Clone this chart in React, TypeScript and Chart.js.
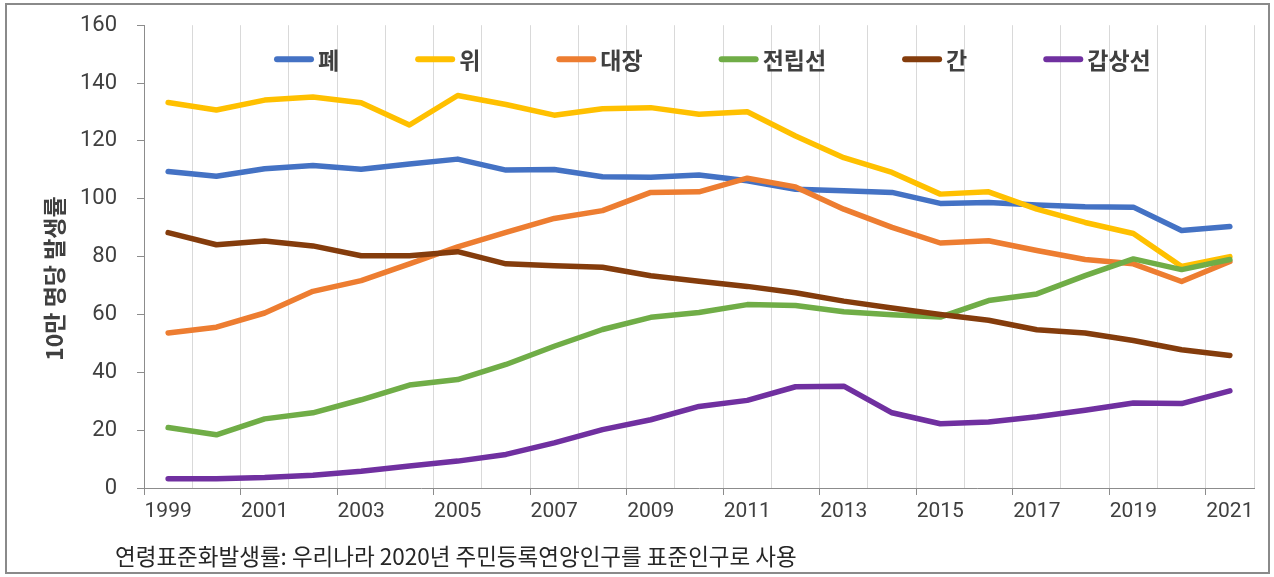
import React, { useEffect, useRef } from 'react';
import { Chart, registerables } from 'chart.js';

Chart.register(...registerables);

const years = ['1999', '2000', '2001', '2002', '2003', '2004', '2005', '2006', '2007', '2008', '2009', '2010', '2011', '2012', '2013', '2014', '2015', '2016', '2017', '2018', '2019', '2020', '2021'];

const lung = [109.4, 107.8, 110.4, 111.5, 110.2, 112.0, 113.7, 109.9, 110.1, 107.6, 107.4, 108.2, 106.2, 103.3, 102.8, 102.2, 98.4, 98.7, 97.8, 97.2, 97.1, 89.0, 90.4];
const stomach = [133.3, 130.7, 134.1, 135.2, 133.2, 125.5, 135.7, 132.6, 128.9, 131.1, 131.5, 129.2, 130.1, 121.7, 114.2, 109.1, 101.6, 102.4, 96.4, 91.8, 88.0, 76.6, 80.0];
const colorectal = [53.6, 55.6, 60.5, 68.0, 71.7, 77.5, 83.4, 88.4, 93.2, 95.9, 102.2, 102.4, 107.1, 104.1, 96.4, 90.1, 84.7, 85.5, 82.1, 79.0, 77.5, 71.4, 78.3];
const prostate = [20.9, 18.4, 23.9, 26.0, 30.5, 35.6, 37.5, 42.7, 49.0, 54.8, 59.0, 60.7, 63.4, 63.1, 60.9, 59.9, 59.1, 64.8, 67.1, 73.4, 79.2, 75.5, 79.0];
const liver = [88.3, 84.1, 85.4, 83.7, 80.3, 80.3, 81.7, 77.5, 76.8, 76.3, 73.4, 71.5, 69.7, 67.5, 64.6, 62.2, 60.0, 58.0, 54.7, 53.6, 51.0, 47.8, 45.8];
const thyroid = [3.2, 3.2, 3.6, 4.4, 5.8, 7.6, 9.3, 11.6, 15.6, 20.2, 23.6, 28.2, 30.3, 35.0, 35.2, 26.0, 22.2, 22.8, 24.6, 26.9, 29.4, 29.2, 33.6];

const seriesNames = ['폐', '위', '대장', '전립선', '간', '갑상선'];
const seriesValues = [lung, stomach, colorectal, prostate, liver, thyroid];
const seriesColors = ['#4472C4', '#FFC000', '#ED7D31', '#70AD47', '#843C0C', '#7030A0'];

const yTitle = '10만 명당 발생률';
const footnote = '연령표준화발생률: 우리나라 2020년 주민등록연앙인구를 표준인구로 사용';

const KFONT = '"Noto Sans CJK KR", "Noto Sans", sans-serif';
const NFONT = 'Roboto, "Noto Sans", sans-serif';

const CANVAS_SHIFT = 8;

export default function App() {
  const canvasRef = useRef<HTMLCanvasElement>(null);

  useEffect(() => {
    if (!canvasRef.current) return;

    const overlayPlugin = {
      id: 'overlayLegendTitle',
      afterDatasetsDraw(chart: any) {
        const ctx = chart.ctx as CanvasRenderingContext2D;
        const area = chart.chartArea;
        ctx.save();
        ctx.font = `bold 23px ${KFONT}`;
        ctx.textBaseline = 'middle';
        ctx.textAlign = 'left';
        let x = area.left + 130;
        const y = area.top + 34;
        chart.data.datasets.forEach((ds: any) => {
          ctx.strokeStyle = ds.borderColor;
          ctx.lineWidth = 6;
          ctx.lineCap = 'round';
          ctx.beginPath();
          ctx.moveTo(x + 3, y);
          ctx.lineTo(x + 37, y);
          ctx.stroke();
          ctx.fillStyle = '#404040';
          ctx.fillText(ds.label, x + 44, y + 1);
          x += 44 + ctx.measureText(ds.label).width + 76;
        });
        ctx.translate(54, (area.top + area.bottom) / 2 + 22);
        ctx.rotate(-Math.PI / 2);
        ctx.font = `bold 23px ${KFONT}`;
        ctx.textAlign = 'center';
        ctx.fillStyle = '#404040';
        ctx.fillText(yTitle, 0, 0);
        ctx.restore();
      },
    };

    const chart = new Chart(canvasRef.current, {
      type: 'line',
      data: {
        labels: years,
        datasets: seriesNames.map((name, i) => ({
          label: name,
          data: seriesValues[i],
          borderColor: seriesColors[i],
          backgroundColor: seriesColors[i],
          borderWidth: 5.5,
          pointRadius: 0,
          pointHoverRadius: 0,
          tension: 0,
          borderCapStyle: 'round' as const,
          borderJoinStyle: 'round' as const,
          order: seriesNames.length - i,
        })),
      },
      options: {
        responsive: false,
        animation: false,
        devicePixelRatio: 1,
        layout: { padding: { top: 16, right: 20, left: 0, bottom: 0 } },
        plugins: {
          legend: { display: false },
          tooltip: { enabled: false },
        },
        scales: {
          x: {
            type: 'category',
            offset: true,
            grid: {
              offset: true,
              color: '#d9d9d9',
              lineWidth: 1,
              tickLength: 7,
              tickColor: (ctx: any) => (ctx.index % 2 === 0 ? '#8c8c8c' : 'rgba(0,0,0,0)'),
            },
            border: { color: '#8c8c8c', width: 1 },
            ticks: {
              autoSkip: false,
              maxRotation: 0,
              padding: 4,
              color: '#404040',
              font: { family: NFONT, size: 21 },
              callback: (_v: any, i: number) => (i % 2 === 0 ? years[i] : ''),
            },
            afterFit: (s: any) => {
              s.height = 89;
            },
          },
          y: {
            min: 0,
            max: 160,
            ticks: {
              stepSize: 20,
              padding: 20,
              color: '#404040',
              font: { family: NFONT, size: 22 },
            },
            grid: {
              drawOnChartArea: false,
              tickLength: 7,
              color: '#8c8c8c',
            },
            border: { color: '#8c8c8c', width: 1 },
            afterFit: (s: any) => {
              s.width = 144;
            },
          },
        },
      },
      plugins: [overlayPlugin],
    });

    return () => chart.destroy();
  }, []);

  return (
    <div style={{ position: 'absolute', left: 0, top: 0, width: 1274, height: 577, background: '#fff', overflow: 'hidden' }}>
      <canvas
        ref={canvasRef}
        width={1274}
        height={577 + CANVAS_SHIFT}
        style={{ position: 'absolute', left: 0, top: -CANVAS_SHIFT, width: 1274, height: 577 + CANVAS_SHIFT }}
      />
      <div
        style={{
          position: 'absolute',
          left: 5,
          top: 3,
          width: 1265,
          height: 571,
          border: '2px solid #8a8a8a',
          boxSizing: 'border-box',
          pointerEvents: 'none',
        }}
      />
      <div
        style={{
          position: 'absolute',
          left: 115,
          top: 541,
          height: 28,
          lineHeight: '28px',
          fontFamily: KFONT,
          fontSize: 22.5,
          color: '#262626',
          whiteSpace: 'nowrap',
        }}
      >
        {footnote}
      </div>
    </div>
  );
}
